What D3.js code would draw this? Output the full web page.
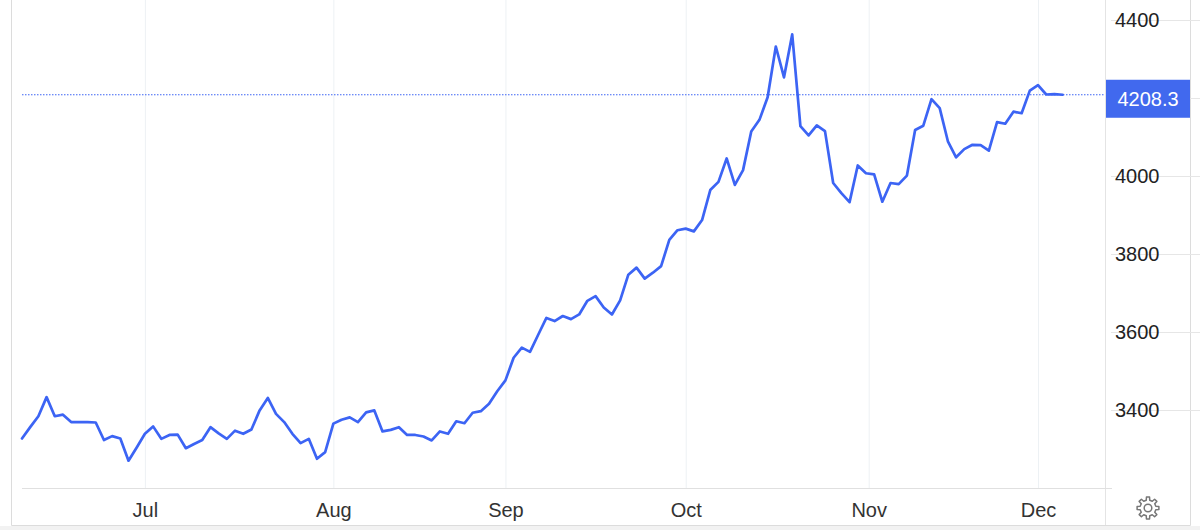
<!DOCTYPE html>
<html>
<head>
<meta charset="utf-8">
<script src="https://cdn.jsdelivr.net/npm/d3@7"></script>
<style>
  body { margin: 0; background: #fff; }
  svg { display: block; font-family: "Liberation Sans", Arial, Helvetica, sans-serif; }
</style>
</head>
<body>
<svg id="chart"></svg>
<script>
var width = 1200;
var height = 530;

// daily closes, one per weekday, starting 2025-06-10
var startDate = '2025-06-10';
var prices = [
  3327, 3356, 3384, 3433, 3384, 3388, 3369, 3369, 3369, 3368,
  3323, 3333, 3327, 3270, 3304, 3339, 3358, 3326, 3336, 3337,
  3302, 3313, 3323, 3356, 3340, 3326, 3347, 3339, 3350, 3399,
  3431, 3390, 3369, 3339, 3315, 3326, 3275, 3292, 3365, 3375,
  3381, 3369, 3394, 3399, 3345, 3349, 3356, 3336, 3336, 3332,
  3322, 3345, 3339, 3371, 3366, 3393, 3397, 3416, 3448, 3476,
  3534, 3560, 3549, 3593, 3636, 3628, 3641, 3633, 3645, 3680,
  3692, 3663, 3645, 3681, 3747, 3765, 3737, 3752, 3769, 3836,
  3861, 3865, 3858, 3887, 3964, 3985, 4045, 3977, 4015, 4114,
  4144, 4202, 4332, 4253, 4363, 4128, 4104, 4130, 4115, 3982,
  3956, 3933, 4027, 4007, 4004, 3934, 3982, 3979, 4001, 4118,
  4129, 4197, 4174, 4089, 4048, 4069, 4080, 4079, 4065, 4138,
  4134, 4165, 4161, 4219, 4233, 4209, 4210, 4208.3
];
var lastPrice = 4208.3;

var yTicks = [3400, 3600, 3800, 4000, 4200, 4400];
var monthStarts = ['2025-07-01', '2025-08-01', '2025-09-01', '2025-10-01', '2025-11-01', '2025-12-01'];
var monthLabels = ['Jul', 'Aug', 'Sep', 'Oct', 'Nov', 'Dec'];

var plotLeft = 22;
var plotRight = 1105;
var plotBottom = 488;
var lineColor = '#3c64f4';

// trading days (weekdays) for each price
var dates = [];
var d = new Date(startDate + 'T00:00:00Z');
while (dates.length < prices.length) {
	var wd = d.getUTCDay();
	if (wd !== 0 && wd !== 6) dates.push(new Date(d));
	d = new Date(d.getTime() + 86400000);
}

// calendar date -> fractional trading index
function dateToIndex(str) {
	var t = new Date(str + 'T00:00:00Z').getTime();
	for (var i = 0; i < dates.length; i++) {
		if (dates[i].getTime() >= t) {
			if (dates[i].getTime() === t || i === 0) return i;
			var a = dates[i - 1].getTime(), b = dates[i].getTime();
			return i - 1 + (t - a) / (b - a);
		}
	}
	return dates.length - 1;
}
var monthIdx = monthStarts.map(dateToIndex);

var x = d3.scaleLinear()
		.domain([0, prices.length - 1])
		.range([plotLeft, 1062.6]);

var y = d3.scaleLinear()
		.domain([3400, 4400])
		.range([410, 20]);

var svg = d3.select('#chart')
		.attr('width', width)
		.attr('height', height);

// frame
svg.append('rect')
		.attr('x', 0).attr('y', 526)
		.attr('width', width).attr('height', 4)
		.style('fill', '#f2f2f2');
svg.append('path')
		.attr('d', 'M11.5,0V525.5H1190.5V0')
		.style('fill', 'none')
		.style('stroke', '#dcdcdc');
svg.append('line')
		.attr('x1', plotRight + 0.5).attr('x2', plotRight + 0.5)
		.attr('y1', 0).attr('y2', 525)
		.style('stroke', '#e4e4e4');

// vertical grid
svg.append('g')
		.attr('transform', 'translate(0,' + plotBottom + ')')
		.call(d3.axisBottom(x).tickValues(monthIdx).tickSize(-plotBottom).tickFormat(''))
		.call(function(g){
			g.select('.domain').remove();
			g.selectAll('line').style('stroke', '#edf1f4');
		});

// horizontal grid
svg.append('g')
		.attr('transform', 'translate(1111,0)')
		.call(d3.axisLeft(y).tickValues(yTicks).tickSize(-(1111 - plotLeft)).tickFormat(''))
		.call(function(g){
			g.select('.domain').remove();
			g.selectAll('line').style('stroke', '#e6e6e6');
		});

// x axis baseline
svg.append('line')
		.attr('x1', plotLeft).attr('x2', 1112)
		.attr('y1', plotBottom + 0.5).attr('y2', plotBottom + 0.5)
		.style('stroke', '#e0e0e0');

// month labels
svg.append('g')
		.attr('transform', 'translate(0,' + plotBottom + ')')
		.call(d3.axisBottom(x).tickValues(monthIdx).tickSize(0).tickPadding(15)
			.tickFormat(function(v, i){ return monthLabels[i]; }))
		.call(function(g){
			g.select('.domain').remove();
			g.selectAll('text')
				.style('font-size', '20px')
				.style('font-family', '"Liberation Sans", Arial, sans-serif')
				.style('fill', '#333');
		});

// price labels (the one hidden under the last price tag is skipped)
var yLabelTicks = yTicks.filter(function(v){ return Math.abs(y(v) - y(lastPrice)) > 20; });
svg.append('g')
		.attr('transform', 'translate(' + plotRight + ',0)')
		.call(d3.axisRight(y).tickValues(yLabelTicks).tickSize(0).tickPadding(10).tickFormat(d3.format('d')))
		.call(function(g){
			g.select('.domain').remove();
			g.selectAll('text')
				.style('font-size', '20px')
				.style('font-family', '"Liberation Sans", Arial, sans-serif')
				.style('fill', '#222');
		});

// last price dotted line
svg.append('line')
		.attr('x1', plotLeft).attr('x2', plotRight)
		.attr('y1', y(lastPrice)).attr('y2', y(lastPrice))
		.style('stroke', lineColor)
		.style('stroke-width', 1)
		.style('stroke-dasharray', '1.5,1.5');

// price line
var line = d3.line()
		.x(function(v, i){ return x(i); })
		.y(function(v){ return y(v); });

svg.append('path')
		.datum(prices)
		.attr('d', line)
		.style('fill', 'none')
		.style('stroke', lineColor)
		.style('stroke-width', 2.7)
		.style('stroke-linejoin', 'round')
		.style('stroke-linecap', 'round');

// last price tag
var tagY = y(lastPrice);
svg.append('rect')
		.attr('x', 1106).attr('y', tagY - 15)
		.attr('width', 84).attr('height', 38)
		.style('fill', '#4169ee');
svg.append('text')
		.attr('x', 1148).attr('y', tagY + 11.5)
		.attr('text-anchor', 'middle')
		.style('font-size', '20px')
		.style('fill', '#fff')
		.text(d3.format('.1f')(lastPrice));

// settings gear
function gearPath(cx, cy, rOut, rIn, teeth) {
	var p = d3.path();
	var step = Math.PI * 2 / teeth;
	for (var k = 0; k < teeth; k++) {
		var a0 = k * step - step * 0.22;
		var a1 = k * step + step * 0.22;
		var pts = [
			[rIn, a0 - step * 0.06], [rOut, a0 + step * 0.04],
			[rOut, a1 - step * 0.04], [rIn, a1 + step * 0.06]
		];
		pts.forEach(function(pt, j){
			var px = cx + pt[0] * Math.cos(pt[1]);
			var py = cy + pt[0] * Math.sin(pt[1]);
			if (k === 0 && j === 0) p.moveTo(px, py); else p.lineTo(px, py);
		});
	}
	p.closePath();
	return p.toString();
}
svg.append('path')
		.attr('d', gearPath(1148, 508, 11, 8, 8))
		.style('fill', 'none')
		.style('stroke', '#777')
		.style('stroke-width', 1.5)
		.style('stroke-linejoin', 'round');
svg.append('circle')
		.attr('cx', 1148).attr('cy', 508).attr('r', 3.8)
		.style('fill', 'none')
		.style('stroke', '#777')
		.style('stroke-width', 1.5);
</script>
</body>
</html>
